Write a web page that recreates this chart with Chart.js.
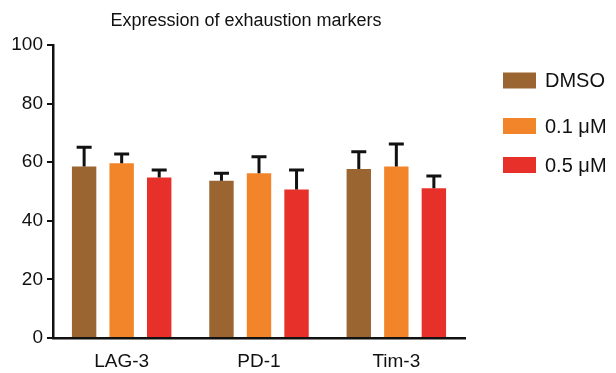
<!DOCTYPE html>
<html>
<head>
<meta charset="utf-8">
<script src="https://cdn.jsdelivr.net/npm/chart.js@4"></script>
<style>
  html, body { margin: 0; padding: 0; background: #fff; }
</style>
</head>
<body>
<canvas id="chart" width="616" height="373"></canvas>
<script>
// data
const markers = ["LAG-3", "PD-1", "Tim-3"];
const seriesNames = ["DMSO", "0.1 \u03bcM", "0.5 \u03bcM"];
const dmso = [58.5, 53.7, 57.7];
const low = [59.6, 56.2, 58.5];
const high = [54.8, 50.7, 51.1];
const dmsoErr = [6.6, 2.5, 5.9];
const lowErr = [3.2, 5.7, 7.7];
const highErr = [2.5, 6.6, 4.2];
const yTicks = [0, 20, 40, 60, 80, 100];

const colors = ['#9b6531', '#f2852a', '#e8302a'];
const FONT = "'Liberation Sans', Arial, sans-serif";

// upward error bars, drawn through the scales
const errorBars = {
  id: 'errorBars',
  afterDatasetsDraw(chart) {
    const ctx = chart.ctx;
    const y = chart.scales.y;
    ctx.save();
    ctx.strokeStyle = '#111';
    ctx.lineWidth = 3;
    chart.data.datasets.forEach((ds, i) => {
      const meta = chart.getDatasetMeta(i);
      meta.data.forEach((bar, j) => {
        const top = y.getPixelForValue(ds.data[j] + ds.errors[j]);
        ctx.beginPath();
        ctx.moveTo(bar.x, bar.y);
        ctx.lineTo(bar.x, top);
        ctx.moveTo(bar.x - 7.5, top);
        ctx.lineTo(bar.x + 7.5, top);
        ctx.stroke();
      });
    });
    ctx.restore();
  }
};

// title and legend placed like the original figure
const decorations = {
  id: 'decorations',
  afterDraw(chart) {
    const ctx = chart.ctx;
    ctx.save();
    ctx.fillStyle = '#111';
    ctx.font = '18px ' + FONT;
    ctx.textAlign = 'center';
    ctx.textBaseline = 'middle';
    ctx.fillText('Expression of exhaustion markers', 246, 21);

    const rows = [80.5, 126, 165];
    ctx.font = '20px ' + FONT;
    ctx.textAlign = 'left';
    chart.data.datasets.forEach((ds, i) => {
      ctx.fillStyle = ds.backgroundColor;
      ctx.fillRect(503, rows[i] - 8, 33, 16);
      ctx.fillStyle = '#111';
      ctx.fillText(ds.label, 545, rows[i] + 1);
    });
    ctx.restore();
  }
};

new Chart(document.getElementById('chart'), {
  type: 'bar',
  data: {
    labels: markers,
    datasets: [
      { label: seriesNames[0], data: dmso, errors: dmsoErr, backgroundColor: colors[0] },
      { label: seriesNames[1], data: low, errors: lowErr, backgroundColor: colors[1] },
      { label: seriesNames[2], data: high, errors: highErr, backgroundColor: colors[2] }
    ]
  },
  options: {
    responsive: false,
    animation: false,
    categoryPercentage: 0.82,
    barPercentage: 0.65,
    layout: { padding: { top: 45, right: 151, left: 0, bottom: 0 } },
    plugins: {
      legend: { display: false },
      title: { display: false },
      tooltip: { enabled: false }
    },
    scales: {
      x: {
        grid: { display: false, drawTicks: false },
        border: { color: '#111', width: 2.5 },
        ticks: { color: '#111', font: { family: FONT, size: 19 }, padding: 12 },
        afterFit: s => { s.height = 35; }
      },
      y: {
        min: 0,
        max: 100,
        afterBuildTicks: s => { s.ticks = yTicks.map(v => ({ value: v })); },
        grid: { drawOnChartArea: false, drawTicks: true, tickLength: 6, color: '#111', lineWidth: 2 },
        border: { color: '#111', width: 2.5 },
        ticks: { color: '#111', font: { family: FONT, size: 19 }, padding: 4 },
        afterFit: s => { s.width = 53; }
      }
    }
  },
  plugins: [errorBars, decorations]
});
</script>
</body>
</html>
